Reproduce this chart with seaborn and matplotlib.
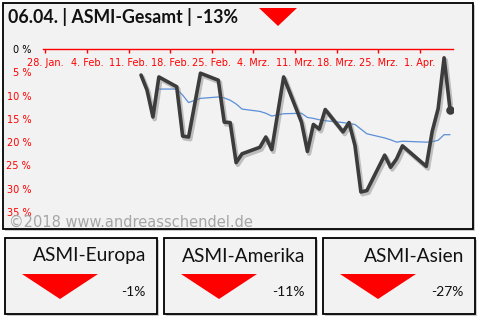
import matplotlib
matplotlib.use("Agg")
import matplotlib.pyplot as plt
import matplotlib.patheffects as pe
from matplotlib.patches import Rectangle, Polygon
import numpy as np
import pandas as pd
import seaborn as sns

# ---- data -------------------------------------------------------------
dates = ["2018-02-13", "2018-02-14", "2018-02-15", "2018-02-16", "2018-02-19",
         "2018-02-20", "2018-02-21", "2018-02-23", "2018-02-26", "2018-02-27",
         "2018-02-28", "2018-03-01", "2018-03-02", "2018-03-05", "2018-03-06",
         "2018-03-07", "2018-03-09", "2018-03-12", "2018-03-13", "2018-03-14",
         "2018-03-15", "2018-03-16", "2018-03-19", "2018-03-20", "2018-03-21",
         "2018-03-22", "2018-03-23", "2018-03-26", "2018-03-27", "2018-03-28",
         "2018-03-29", "2018-04-02", "2018-04-03", "2018-04-04", "2018-04-05",
         "2018-04-06"]
gesamt = [-5.6, -8.8, -14.6, -6.0, -8.1, -18.7, -18.9, -5.2, -6.7, -15.7,
          -15.8, -24.4, -22.5, -21.1, -18.9, -21.6, -6.0, -15.7, -22.0, -16.2,
          -17.2, -13.0, -17.8, -15.8, -20.7, -30.7, -30.4, -22.8, -25.4, -23.6,
          -20.8, -25.2, -17.7, -12.8, -1.9, -13.0]
# moving average, available from the 4th date on
average = [np.nan, np.nan, np.nan, -8.6, -8.6, -9.9, -11.5, -10.6, -10.3, -10.5,
           -11.0, -11.8, -12.9, -13.4, -13.8, -14.4, -13.9, -13.8, -14.7, -14.9,
           -15.2, -15.4, -15.8, -16.0, -16.2, -17.2, -18.2, -19.1, -19.5, -20.0,
           -19.8, -20.0, -19.9, -19.6, -18.4, -18.4]

tick_dates = ["2018-01-28", "2018-02-04", "2018-02-11", "2018-02-18", "2018-02-25",
              "2018-03-04", "2018-03-11", "2018-03-18", "2018-03-25", "2018-04-01"]
tick_labels = ["28. Jan.", "4. Feb.", "11. Feb.", "18. Feb.", "25. Feb.",
               "4. Mrz.", "11. Mrz.", "18. Mrz.", "25. Mrz.", "1. Apr."]
y_ticks = [-35, -30, -25, -20, -15, -10, -5, 0]

title_date = "06.04."
title_name = "ASMI-Gesamt"
regions = ["ASMI-Europa", "ASMI-Amerika", "ASMI-Asien"]
region_changes = [-1, -11, -27]

# ---- style ------------------------------------------------------------
sns.set_theme(style="white")
plt.rcParams["font.family"] = ["DejaVu Sans"]

W, H = 485, 322
fig = plt.figure(figsize=(W / 100, H / 100), dpi=100)
fig.patch.set_facecolor("white")

PANEL = "#f2f2f2"
RED = "#ff0000"
TEXT = "#111111"


def fx(px):
    return px / W


def fy(py):
    return 1 - py / H


def panel(x0, y0, x1, y1):
    # drop shadow, then the box itself
    fig.patches.append(Rectangle((fx(x0 + 2), fy(y1 + 2)), fx(x1 - x0), (y1 - y0) / H,
                                 transform=fig.transFigure, facecolor="#bfbfbf",
                                 edgecolor="none", alpha=0.8, zorder=0))
    fig.patches.append(Rectangle((fx(x0), fy(y1)), fx(x1 - x0), (y1 - y0) / H,
                                 transform=fig.transFigure, facecolor=PANEL,
                                 edgecolor="black", linewidth=1.3, zorder=0.5))


def down_triangle(xl, xr, ytop, ybot):
    xm = (xl + xr) / 2
    fig.patches.append(Polygon([(fx(xl), fy(ytop)), (fx(xr), fy(ytop)), (fx(xm), fy(ybot))],
                               closed=True, transform=fig.transFigure,
                               facecolor=RED, edgecolor="none", zorder=2))


# main panel
panel(3, 3, 473, 229)

# ---- chart ------------------------------------------------------------
ax = fig.add_axes([fx(43), fy(212), fx(453 - 43), (212 - 49) / H])
ax.set_zorder(3)
ax.patch.set_alpha(0)

df = pd.DataFrame({"date": pd.to_datetime(dates) + pd.Timedelta(hours=12),
                   "gesamt": gesamt, "average": average})

sns.lineplot(data=df, x="date", y="average", ax=ax, color="#5b8fd8",
             linewidth=0.9, zorder=3)
sns.lineplot(data=df, x="date", y="gesamt", ax=ax, color="#3c3c3c",
             linewidth=2.6, zorder=4)
main_line = ax.lines[-1]
main_line.set_path_effects([pe.SimpleLineShadow(offset=(1.2, -1.6), shadow_color="#7f7f7f",
                                                alpha=0.45, linewidth=3.2),
                            pe.Normal()])
last = df.iloc[-1]
ax.scatter([last["date"]], [last["gesamt"]], s=38, color="#3c3c3c", zorder=5,
           linewidths=0)

ax.set_xlim(pd.Timestamp("2018-01-28"), pd.Timestamp("2018-04-07"))
ax.set_ylim(-35, 0)
ax.set_xlabel("")
ax.set_ylabel("")

ax.set_xticks(pd.to_datetime(tick_dates) + pd.Timedelta(hours=10))
ax.set_xticklabels(tick_labels)
ax.set_yticks(y_ticks)
ax.set_yticklabels([f"{abs(v)} %" for v in y_ticks])
for lbl, v in zip(ax.get_yticklabels(), y_ticks):
    lbl.set_color("black" if v == 0 else RED)

ax.tick_params(axis="x", which="both", direction="out", length=3.2, width=1,
               color=RED, labelcolor=RED, labelsize=7, pad=3.5, bottom=True)
ax.tick_params(axis="y", length=0, labelsize=7, pad=8.5)

for s in ["top", "right", "left"]:
    ax.spines[s].set_visible(False)
ax.spines["bottom"].set_position(("data", 0))
ax.spines["bottom"].set_color(RED)
ax.spines["bottom"].set_linewidth(1)
ax.grid(False)

# ---- titles and labels ------------------------------------------------
fig.text(fx(8), fy(17), f"{title_date} | {title_name} | {gesamt[-1]:.0f}%",
         fontsize=12.8, fontweight="bold", family=["Lato", "DejaVu Sans"],
         ha="left", va="center", color=TEXT, zorder=4)
down_triangle(259, 297, 8, 26)

fig.text(fx(9), fy(222), "©2018 www.andreasschendel.de", fontsize=10.5,
         color="#a6a6a6", ha="left", va="center", zorder=4)

# ---- region boxes -----------------------------------------------------
box_left = [5, 164, 323]
box_w = 152
for x0, name, chg in zip(box_left, regions, region_changes):
    panel(x0, 238, x0 + box_w, 314)
    fig.text(fx(x0 + box_w - 11), fy(256), name, fontsize=13.8,
             family=["Lato", "DejaVu Sans"], ha="right", va="center", color=TEXT,
             zorder=4)
    fig.text(fx(x0 + box_w - 11), fy(292), f"{chg}%", fontsize=10,
             family=["Lato", "DejaVu Sans"], ha="right", va="center", color=TEXT,
             zorder=4)
    down_triangle(x0 + 17, x0 + 93, 274, 299)

fig.savefig("out.png", dpi=100, facecolor="white")
